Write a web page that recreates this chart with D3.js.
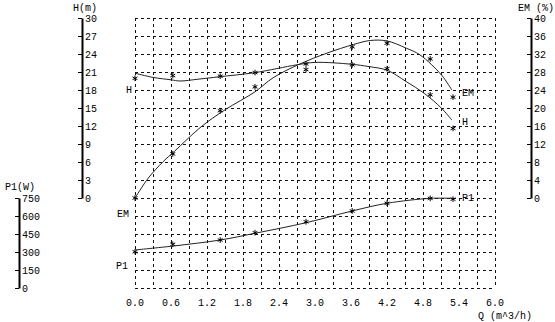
<!DOCTYPE html>
<html lang="en">
<head>
    <meta charset="UTF-8">
    <title>Pump Curve with D3.js</title>
    <script src="https://d3js.org/d3.v7.min.js"></script>
    <style>
        body { margin: 0; background: #fff; }
        text { font-family: "Liberation Mono", "DejaVu Sans Mono", monospace; font-size: 10px; fill: #000; }
    </style>
</head>
<body>
    <svg id="pump-chart"></svg>
    <script>
        // measured points (stars)
        const qPoints = [0, 0.63, 1.42, 2.0, 2.85, 3.62, 4.2, 4.92, 5.3];
        const headPoints = [19.95, 20.4, 20.3, 20.9, 21.4, 22.2, 21.55, 17.2, 11.6];
        const effPoints = [0, 9.8, 19.4, 24.7, 29.8, 33.6, 34.4, 30.9, 22.4];
        const powerPoints = [302, 364, 400, 461, 552, 642, 706, 747, 740];

        // fitted curves
        const headCurveQ = [0, 0.3, 0.6, 0.75, 1.05, 1.4, 2.0, 2.7, 3.0, 3.6, 3.9, 4.2, 4.52, 4.82, 5.11, 5.28];
        const headCurve = [20.8, 20.1, 19.7, 19.5, 19.8, 20.2, 20.9, 22.2, 22.6, 22.3, 21.9, 21.3, 19.4, 17.45, 14.95, 13.0];
        const effCurveQ = [0, 0.22, 0.47, 0.66, 1.1, 1.5, 2.0, 2.3, 2.75, 3.2, 3.64, 3.92, 4.2, 4.52, 4.75, 5.11, 5.28];
        const effCurve = [0, 4.4, 8.1, 10.4, 15.8, 19.6, 23.6, 26.7, 29.8, 32.2, 34.1, 35.0, 34.9, 33.3, 31.8, 27.3, 24.0];
        const powerCurveQ = [0, 0.64, 1.42, 2.0, 2.85, 3.62, 4.2, 4.92, 5.3];
        const powerCurve = [317, 350, 400, 456, 544, 642, 706, 747, 747];

        const qTicks = [0, 0.6, 1.2, 1.8, 2.4, 3.0, 3.6, 4.2, 4.8, 5.4, 6.0];
        const headTicks = [0, 3, 6, 9, 12, 15, 18, 21, 24, 27, 30];
        const effTicks = [0, 4, 8, 12, 16, 20, 24, 28, 32, 36, 40];
        const powerTicks = [0, 150, 300, 450, 600, 750];

        const width = 555, height = 322;
        const svg = d3.select("#pump-chart").attr("width", width).attr("height", height);

        const x = d3.scaleLinear().domain([0, 6]).range([135, 495]);
        const yH = d3.scaleLinear().domain([0, 30]).range([198, 18]);
        const yE = d3.scaleLinear().domain([0, 40]).range([198, 18]);
        const yP = d3.scaleLinear().domain([0, 750]).range([288, 198]);

        // dashed grid
        const grid = svg.append("g").attr("stroke", "#111").attr("stroke-width", 1).attr("stroke-dasharray", "3,3");
        const gridQ = d3.range(0, 21).map(i => i * 0.3);
        grid.selectAll(".gv").data(gridQ).join("line")
            .attr("x1", d => Math.round(x(d)) + 0.5).attr("x2", d => Math.round(x(d)) + 0.5)
            .attr("y1", yH(30)).attr("y2", yP(0));
        const gridY = headTicks.map(d => yH(d)).concat(powerTicks.slice(0, 5).map(d => yP(d)));
        grid.selectAll(".gh").data(gridY).join("line")
            .attr("x1", x(0)).attr("x2", x(6))
            .attr("y1", d => Math.round(d) + 0.5).attr("y2", d => Math.round(d) + 0.5);

        // axes: bar on one side, labels on the other
        function styleAxis(g) {
            g.select(".domain").attr("stroke-width", 2).attr("stroke", "#000");
            g.selectAll(".tick line").attr("stroke", "#000");
            g.selectAll(".tick text").style("font-family", "Liberation Mono, monospace").style("font-size", "10px");
        }
        svg.append("g").attr("transform", "translate(82,0)")
            .call(d3.axisRight(yH).tickValues(headTicks).tickSizeInner(-4).tickSizeOuter(0).tickPadding(3))
            .call(styleAxis);
        svg.append("g").attr("transform", "translate(531,0)")
            .call(d3.axisRight(yE).tickValues(effTicks).tickSizeInner(-4).tickSizeOuter(0).tickPadding(3))
            .call(styleAxis);
        svg.append("g").attr("transform", "translate(19,0)")
            .call(d3.axisRight(yP).tickValues(powerTicks).tickSizeInner(-4).tickSizeOuter(0).tickPadding(3))
            .call(styleAxis);
        svg.selectAll(".tick text").attr("fill", "#000");

        svg.append("g").selectAll("text").data(qTicks).join("text")
            .attr("x", d => x(d)).attr("y", 306).attr("text-anchor", "middle")
            .text(d => d3.format(".1f")(d));

        svg.append("text").attr("x", 85).attr("y", 11).attr("text-anchor", "middle").text("H(m)");
        svg.append("text").attr("x", 518).attr("y", 11).text("EM (%)");
        svg.append("text").attr("x", 5).attr("y", 190).text("P1(W)");
        svg.append("text").attr("x", 478).attr("y", 319).text("Q (m^3/h)");

        // curves
        const series = [
            { name: "H", y: yH, cq: headCurveQ, cv: headCurve, pv: headPoints, left: [132, 15], right: -3 },
            { name: "EM", y: yE, cq: effCurveQ, cv: effCurve, pv: effPoints, left: [129, 19], right: -1 },
            { name: "P1", y: yP, cq: powerCurveQ, cv: powerCurve, pv: powerPoints, left: [128, 17], right: 2 }
        ];
        const star = d3.symbol().type(d3.symbolAsterisk).size(22);

        series.forEach(s => {
            const line = d3.line().x(d => x(d[0])).y(d => s.y(d[1])).curve(d3.curveCatmullRom);
            svg.append("path").datum(d3.zip(s.cq, s.cv)).attr("d", line)
                .attr("fill", "none").attr("stroke", "#222").attr("stroke-width", 1);
            svg.append("g").selectAll("path").data(d3.zip(qPoints, s.pv)).join("path")
                .attr("transform", d => `translate(${x(d[0])},${s.y(d[1])})`)
                .attr("d", star).attr("fill", "none").attr("stroke", "#000").attr("stroke-width", 1);

            svg.append("text").attr("x", s.left[0]).attr("y", s.y(s.pv[0]) + s.left[1])
                .attr("text-anchor", "end").text(s.name);
            const last = s.pv.length - 1;
            svg.append("text").attr("x", x(qPoints[last]) + 9).attr("y", s.y(s.pv[last]) + s.right)
                .text(s.name);
        });
    </script>
</body>
</html>
